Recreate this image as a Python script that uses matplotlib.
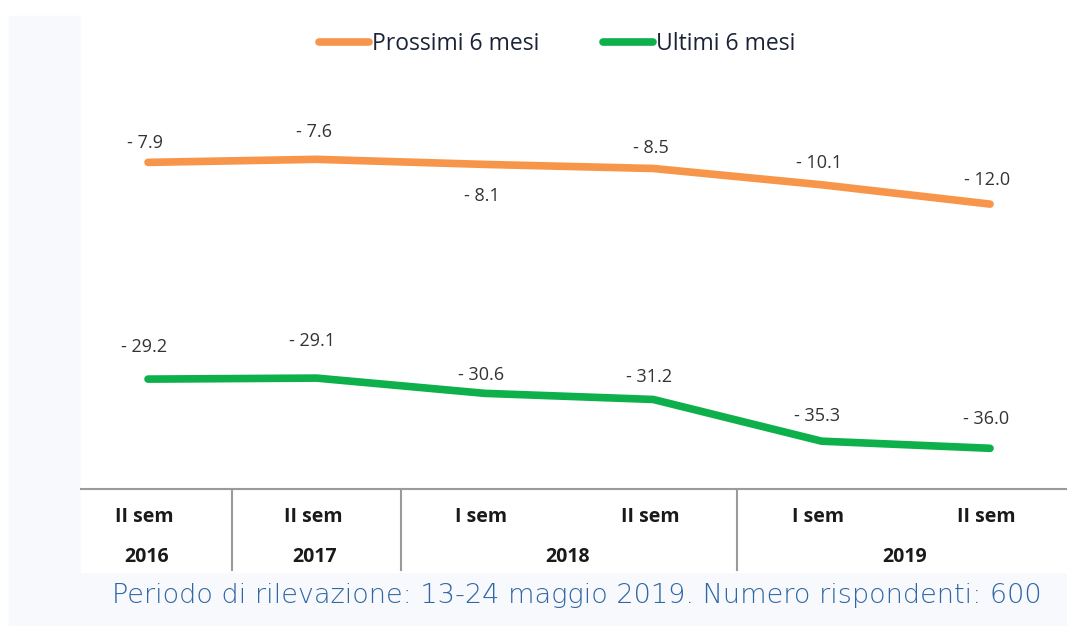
import matplotlib.pyplot as plt
from matplotlib.patches import Rectangle

# data
semesters = ["II sem", "II sem", "I sem", "II sem", "I sem", "II sem"]
years = ["2016", "2017", "2018", "2019"]
year_spans = [(0, 0), (1, 1), (2, 3), (4, 5)]
prossimi = [-7.9, -7.6, -8.1, -8.5, -10.1, -12.0]
ultimi = [-29.2, -29.1, -30.6, -31.2, -35.3, -36.0]

# label offsets (points), label of 3rd orange point sits below the line
off_prossimi = [14, 20, -23, 15, 16, 17]
off_ultimi = [23, 27, 13, 16, 18, 21]

ORANGE = "#F7964A"
GREEN = "#0DB04B"
PANEL = "#F7F9FD"

W, H = 1067, 626
fig = plt.figure(figsize=(W / 100, H / 100), dpi=100)
plt.rcParams['font.family'] = ['Open Sans', 'DejaVu Sans']

# light panel round the white chart area
fig.patches.append(Rectangle((9 / W, 0), 1, 1 - 16 / H, transform=fig.transFigure,
                             color=PANEL, zorder=-10))
fig.patches.append(Rectangle((81 / W, 1 - 572 / H), 1, 1, transform=fig.transFigure,
                             color="white", zorder=-9))

ax = fig.add_axes([81 / W, 1 - 489 / H, 1 - 81 / W, (489 - 82) / H])
ax.set_facecolor("none")
x = list(range(len(prossimi)))

ax.plot(x, prossimi, color=ORANGE, lw=5.5, solid_capstyle="round",
        solid_joinstyle="round", label="Prossimi 6 mesi")
ax.plot(x, ultimi, color=GREEN, lw=5.5, solid_capstyle="round",
        solid_joinstyle="round", label="Ultimi 6 mesi")

for xi, v, o in zip(x, prossimi, off_prossimi):
    ax.annotate(f"{v:.1f}".replace("-", "- "), (xi, v), xytext=(-2, o),
                textcoords="offset points", ha="center", va="center",
                fontsize=13, color="#333333")
for xi, v, o in zip(x, ultimi, off_ultimi):
    ax.annotate(f"{v:.1f}".replace("-", "- "), (xi, v), xytext=(-3, o),
                textcoords="offset points", ha="center", va="center",
                fontsize=13, color="#333333")

ax.set_ylim(-40, 0)
ax.set_xlim(-0.398, 5.457)
ax.set_yticks([])
ax.set_xticks([])
for s in ["top", "right", "left"]:
    ax.spines[s].set_visible(False)
ax.spines["bottom"].set_color("#9a9a9a")
ax.spines["bottom"].set_linewidth(1.5)

# two-row category axis below the plot
trans = ax.get_xaxis_transform()
row1 = -(517 - 489) / (489 - 82)
row2 = -(557 - 489) / (489 - 82)
bottom = -(570 - 489) / (489 - 82)
for xi, s in zip(x, semesters):
    ax.text(xi - 0.02, row1, s, transform=trans, ha="center", va="center",
            fontsize=14, fontweight="bold", color="#1a1a1a")
for (a, b), yr in zip(year_spans, years):
    ax.text((a + b) / 2 - 0.01, row2, yr, transform=trans, ha="center", va="center",
            fontsize=14, fontweight="bold", color="#1a1a1a")
for a, b in year_spans[:-1]:
    ax.plot([b + 0.5, b + 0.5], [0, bottom], transform=trans, color="#9a9a9a",
            lw=1.5, clip_on=False)

leg = ax.legend(loc="center", bbox_to_anchor=((557 - 81) / (W - 81), 1 + (82 - 44) / (489 - 82)),
                ncol=2, frameon=False, fontsize=16.5, handlelength=2.2,
                handletextpad=0.1, columnspacing=2.8)
for t in leg.get_texts():
    t.set_color("#1b2436")

fig.text(577 / W, 1 - 596 / H,
         "Periodo di rilevazione: 13-24 maggio 2019. Numero rispondenti: 600",
         ha="center", va="center", fontsize=19.5, color="#2F66A3",
         family=["DejaVu Sans"], fontweight="light")

fig.savefig("out.png", dpi=100)
